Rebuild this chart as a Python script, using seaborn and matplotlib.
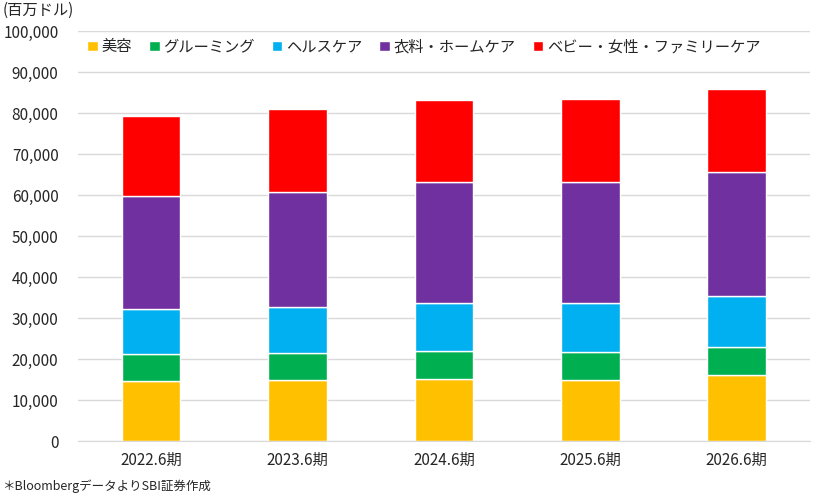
import numpy as np
import matplotlib
matplotlib.use('Agg')
import matplotlib.pyplot as plt
import seaborn as sns

sns.set_style('white')
plt.rcParams['font.family'] = ['Noto Sans CJK JP', 'DejaVu Sans']

periods = ['2022.6期', '2023.6期', '2024.6期', '2025.6期', '2026.6期']
series_names = ['美容', 'グルーミング', 'ヘルスケア', '衣料・ホームケア', 'ベビー・女性・ファミリーケア']
beauty = [14670, 14910, 15100, 14840, 16060]
grooming = [6640, 6560, 6810, 6810, 6810]
health = [10860, 11190, 11680, 11930, 12410]
fabric_home = [27550, 28200, 29520, 29520, 30410]
baby_family = [19610, 20180, 20110, 20350, 20200]
colors = ['#FFC000', '#00B050', '#00B0F0', '#7030A0', '#FF0000']

fig = plt.figure(figsize=(8.15, 4.95), dpi=100)
ax = fig.add_axes([0.0957, 0.109, 0.898, 0.828])

# stacked bars, one barplot call per series
bottom = np.zeros(len(periods))
for name, vals, c in zip(series_names,
                         [beauty, grooming, health, fabric_home, baby_family],
                         colors):
    sns.barplot(x=periods, y=vals, bottom=bottom, color=c, width=0.4,
                label=name, ax=ax, saturation=1)
    bottom += np.array(vals)

ax.set_ylim(0, 100000)
ax.set_xlim(-0.5, 4.5)
ax.set_yticks(np.arange(0, 100001, 10000))
ax.set_yticklabels(['{:,}'.format(v) for v in range(0, 100001, 10000)], fontsize=11)
ax.tick_params(axis='x', labelsize=11, length=0, pad=8)
ax.tick_params(axis='y', length=0, pad=14)
ax.yaxis.grid(True, color='#D9D9D9', linewidth=1)
ax.set_axisbelow(True)
for s in ['top', 'right', 'left']:
    ax.spines[s].set_visible(False)
ax.spines['bottom'].set_color('#D9D9D9')
ax.set_xlabel('')
ax.set_ylabel('')

ax.legend(loc='upper left', bbox_to_anchor=(0.0, 1.005), ncol=5, frameon=False,
          fontsize=11, handlelength=0.7, handleheight=0.7, handletextpad=0.25,
          columnspacing=1.1, borderaxespad=0.2)

fig.text(0.003, 0.997, '(百万ドル)', fontsize=11, va='top', ha='left')
fig.text(0.003, 0.005, '＊BloombergデータよりSBI証券作成', fontsize=9, va='bottom', ha='left')

fig.savefig('out.png', dpi=100)
